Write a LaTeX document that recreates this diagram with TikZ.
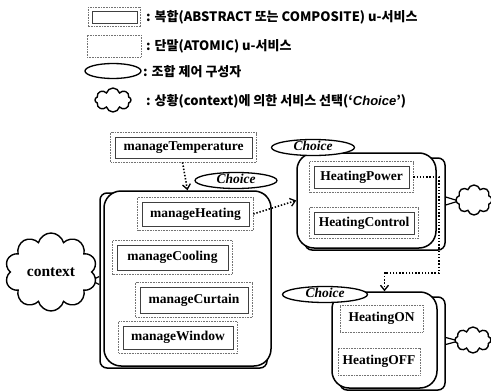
\documentclass[tikz,border=0pt]{standalone}
\usepackage{fontspec}
\setmainfont{Liberation Serif}
\newfontfamily\kr{Noto Sans CJK KR}
\newfontfamily\lsans{Liberation Sans}
\usetikzlibrary{shapes.geometric,shapes.symbols,arrows.meta,calc}

\begin{document}
\begin{tikzpicture}[x=1pt,y=-1pt,
  lbl/.style={font=\fontsize{13.5}{15}\selectfont\bfseries},
  inbox/.style={draw=black!75, line width=0.7pt, inner sep=0pt, lbl},
  atombox/.style={draw=black!55, line width=0.9pt, dash pattern=on 0.8pt off 0.8pt, inner sep=0pt, lbl},
  outframe/.style={draw=black!55, line width=0.9pt, dash pattern=on 0.8pt off 0.8pt},
  cont/.style={draw, line width=1.5pt, rounded corners=17pt, fill=white, inner sep=0pt},
  contback/.style={draw, line width=1.5pt, rounded corners=7pt, fill=white, inner sep=0pt},
  choice/.style={ellipse, draw, line width=1.3pt, fill=white, inner sep=0pt,
    text height=7pt, text depth=1pt, font=\fontsize{13.5}{15}\selectfont\bfseries\itshape},
  ctxcloud/.style={cloud, draw, line width=1.4pt, cloud puffs=10, cloud ignores aspect,
    inner sep=0pt, fill=white},
  conn/.style={line width=1.6pt, dash pattern=on 1.4pt off 1.8pt,
    -{Straight Barb[length=5pt,width=8pt,line width=1.3pt]}},
  fork/.style={line width=1.2pt},
  legtxt/.style={anchor=west, inner sep=0pt, font=\fontsize{13}{14}\kr\bfseries}
]
\useasboundingbox (0,0) rectangle (491,391);
\clip (0,0) rectangle (491,391);

% legend
\node[inbox, minimum width=45pt, minimum height=12pt] (lgc) at (114.5,17) {};
\draw[outframe] ([shift={(-3.5pt,3.5pt)}]lgc.north west) rectangle ([shift={(3.5pt,-3.5pt)}]lgc.south east);
\node[atombox, minimum width=54pt, minimum height=22pt] (lga) at (114,46) {};
\node[choice, minimum width=56pt, minimum height=15pt] (lge) at (113,71) {};
\node[ctxcloud, minimum width=36pt, minimum height=24pt, cloud puffs=8] (lgk) at (113,100) {};
\node[legtxt] (lt1) at (146,17) {: 복합(ABSTRACT 또는 COMPOSITE) u-서비스};
\node[legtxt] (lt2) at (146,46) {: 단말(ATOMIC) u-서비스};
\node[legtxt] (lt3) at (143,72) {: 조합 제어 구성자};
\node[legtxt] (lt4) at (146,101) {: 상황(context)에 의한 서비스 선택(‘{\lsans\bfseries\itshape Choice}’)};

% composition containers (back sheet, then front sheet)
\node[contback, minimum width=167pt, minimum height=175pt] (mcb) at (183.5,280.5) {};
\node[cont, minimum width=167pt, minimum height=175pt] (mc) at (187.5,278.5) {};
\node[contback, minimum width=140pt, minimum height=92pt] (pcb) at (375,204) {};
\node[cont, minimum width=139pt, minimum height=95pt] (pc) at (366.5,200.5) {};
\node[contback, minimum width=105pt, minimum height=93pt] (ocb) at (392.5,343.5) {};
\node[cont, minimum width=105pt, minimum height=96pt] (oc) at (384.5,340) {};

% choice controllers
\node[choice, minimum width=82pt, minimum height=16pt] (ch1) at (236,180.5) {Choice};
\node[choice, minimum width=83pt, minimum height=16pt] (ch2) at (313,147.5) {Choice};
\node[choice, minimum width=85pt, minimum height=16pt] (ch3) at (325,294.5) {Choice};

% services
\node[inbox, minimum width=137pt, minimum height=21pt] (temp) at (183.5,147.5) {manageTemperature};
\node[inbox, minimum width=107pt, minimum height=24pt] (heat) at (195.5,214) {manageHeating};
\node[inbox, minimum width=111pt, minimum height=25pt] (cool) at (172.5,257.5) {manageCooling};
\node[inbox, minimum width=108pt, minimum height=26pt] (curt) at (194,300) {manageCurtain};
\node[inbox, minimum width=110pt, minimum height=23pt] (win) at (178,337.5) {manageWindow};
\node[inbox, minimum width=95pt, minimum height=22pt] (hpow) at (361.5,177) {HeatingPower};
\node[inbox, minimum width=100pt, minimum height=22pt] (hctl) at (364,223) {HeatingControl};
\node[atombox, minimum width=83pt, minimum height=27pt] (hon) at (381.5,318.5) {HeatingON};
\node[atombox, minimum width=82pt, minimum height=27pt] (hoff) at (379,361.5) {HeatingOFF};
\foreach \n in {temp,heat,cool,curt,win,hpow,hctl}
  \draw[outframe] ([shift={(-4pt,4pt)}]\n.north west) rectangle ([shift={(4pt,-4pt)}]\n.south east);

% control flow
\draw[conn] ([shift={(-1pt,-4pt)}]temp.south) -- (mc.north);
\draw[conn] ([xshift=4pt]heat.east) -- (pc.west);
\coordinate (bend) at (439,273);
\draw[conn] ([xshift=4pt]hpow.east) -| (bend) -| (oc.north);

% context links
\draw[fork] ([yshift=4pt]mcb.west) -- ([xshift=-8pt]mcb.west) -- ([yshift=-4pt]mcb.west);
\draw[fork] ([yshift=7pt]pcb.east) -- ([shift={(13pt,3pt)}]pcb.east) -- ([yshift=-1pt]pcb.east);
\draw[fork] ([yshift=6pt]ocb.east) -- ([shift={(13pt,2.5pt)}]ocb.east) -- ([yshift=-1pt]ocb.east);

\node[ctxcloud, minimum width=92pt, minimum height=78pt,
  font=\fontsize{15.5}{17}\selectfont\bfseries] (ctx) at (51,272) {context};
\node[ctxcloud, minimum width=36pt, minimum height=30pt, cloud puffs=8] (k1) at (474,200) {};
\node[ctxcloud, minimum width=36pt, minimum height=26pt, cloud puffs=8] (k2) at (473,340) {};
\end{tikzpicture}
\end{document}
